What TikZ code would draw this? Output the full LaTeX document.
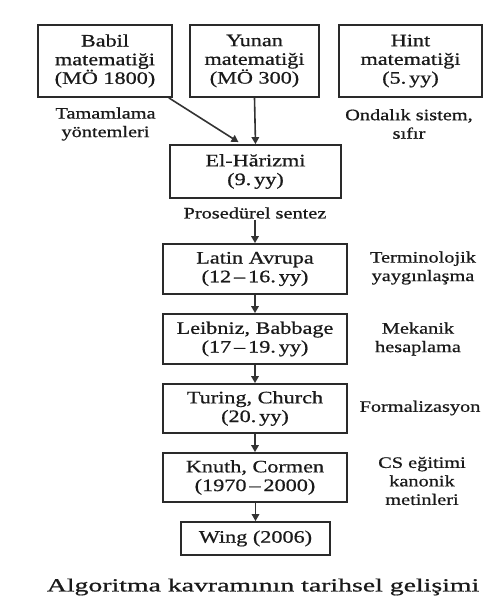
\documentclass[tikz,border=0pt]{standalone}
\usepackage{fontspec}
\setmainfont{Liberation Serif}[FakeStretch=1.27,FakeBold=0.7]
\newfontfamily\capfont{Liberation Serif}[FakeStretch=1.5,FakeBold=0.8]
\usetikzlibrary{arrows.meta,calc}
\definecolor{ink}{HTML}{1A1A1A}
\definecolor{edge}{HTML}{2A2A2A}
\definecolor{arr}{HTML}{333333}
\begin{document}
\begin{tikzpicture}[x=1pt,y=-1pt,
  box/.style={draw=edge,line width=1.8pt,fill=white,text=ink,align=center,inner sep=0pt,
    font=\fontsize{17.5}{18.7}\selectfont},
  lbl/.style={text=ink,align=center,inner sep=1pt,font=\fontsize{16}{18.5}\selectfont},
  conn/.style={draw=arr,line width=1.6pt,-{Triangle[length=7pt,width=7.5pt]}}]
\fill[white] (0,0) rectangle (497,602);
\useasboundingbox (0,0) rectangle (497,602);
% top row
\node[box,minimum width=134pt,minimum height=72pt] (babil) at (105,61) {Babil\\matematiği\\(MÖ 1800)};
\node[box,minimum width=129pt,minimum height=72pt] (yunan) at (254.5,61) {Yunan\\matematiği\\(MÖ 300)};
\node[box,minimum width=143pt,minimum height=72pt] (hint) at (410.5,61) {Hint\\matematiği\\(5.\,yy)};
\node[lbl] (tam) at (105.5,124) {Tamamlama\\yöntemleri};
\node[lbl] (ond) at (409,124) {Ondalık sistem,\\sıfır};
% chain
\node[box,minimum width=171pt,minimum height=53pt] (el) at (255.5,171.5) {El-Hărizmi\\(9.\,yy)};
\node[lbl] (pros) at (255,213) {Prosedürel sentez};
\node[box,minimum width=184pt,minimum height=50pt] (latin) at (255,269) {Latin Avrupa\\(12\,–\,16.\,yy)};
\node[box,minimum width=184pt,minimum height=50pt] (leib) at (255,339) {Leibniz, Babbage\\(17\,–\,19.\,yy)};
\node[box,minimum width=184pt,minimum height=49pt] (tur) at (255,408.5) {Turing, Church\\(20.\,yy)};
\node[box,minimum width=184pt,minimum height=49pt] (knuth) at (255,477.5) {Knuth, Cormen\\(1970\,–\,2000)};
\node[box,minimum width=149pt,minimum height=33pt] (wing) at (255.5,538.5) {Wing (2006)};
% side labels
\node[lbl] (term) at (423,268) {Terminolojik\\yaygınlaşma};
\node[lbl] (mek) at (418,339) {Mekanik\\hesaplama};
\node[lbl] (form) at (420,408) {Formalizasyon};
\node[lbl] (cs) at (422,481) {CS eğitimi\\kanonik\\metinleri};
% caption
\node[text=ink,inner sep=0pt,font=\capfont\fontsize{18.5}{20}\selectfont] (cap) at (263,587) {Algoritma kavramının tarihsel gelişimi};
% connectors
\draw[conn] ($(babil.south east)+(-4,0)$) -- ($(el.north)+(-17,-2)$);
\draw[conn] (yunan.south) -- (el.north);
\draw[conn] (pros.south) -- (latin.north);
\draw[conn] (latin) -- (leib);
\draw[conn] (leib) -- (tur);
\draw[conn] (tur) -- (knuth);
\draw[conn] (knuth.south -| wing.north) -- (wing.north);
\end{tikzpicture}
\end{document}
